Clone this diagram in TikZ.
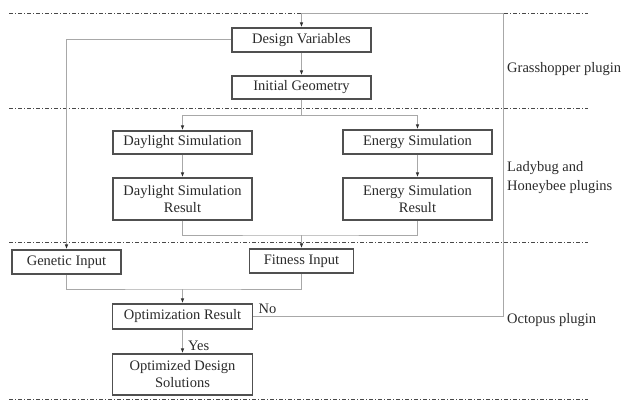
\documentclass[tikz,border=0pt]{standalone}
\usepackage{fontspec}
\setmainfont{Liberation Serif}
\usetikzlibrary{arrows.meta}
\definecolor{txtc}{HTML}{2A2A2A}
\definecolor{boxc}{HTML}{505050}
\definecolor{linec}{HTML}{A8A8A8}
\definecolor{sepc}{HTML}{484848}
\definecolor{arrc}{HTML}{303030}
\begin{document}
\begin{tikzpicture}[x=1pt,y=-1pt,
  box/.style={draw=boxc, line width=1.3pt, fill=white, inner sep=0pt, align=center,
    font=\fontsize{14.5}{17}\selectfont, text=txtc},
  conn/.style={draw=linec, line width=1pt},
  arr/.style={conn, -{Latex[length=5pt,width=3.6pt,color=arrc]}},
  sep/.style={draw=sepc, line width=1pt, dash pattern=on 4pt off 2pt on 1pt off 2pt},
  lab/.style={font=\fontsize{14.5}{19}\selectfont, text=txtc, inner sep=0pt}]
\useasboundingbox (0,0) rectangle (626,401);
% separators
\coordinate (sa1) at (9,13.5);   \coordinate (sa2) at (588,13.5);
\coordinate (sb1) at (9,109);    \coordinate (sb2) at (588,109);
\coordinate (sc1) at (9,242);    \coordinate (sc2) at (588,242);
\coordinate (sd1) at (9,399);    \coordinate (sd2) at (588,399);
\draw[sep] (sa1) -- (sa2);
\draw[sep] (sb1) -- (sb2);
\draw[sep] (sc1) -- (sc2);
\draw[sep] (sd1) -- (sd2);
% boxes
\node[box, minimum width=139pt, minimum height=24pt] (dv) at (301.5,40) {Design Variables};
\node[box, minimum width=139pt, minimum height=23pt] (ig) at (301.5,87.5) {Initial Geometry};
\node[box, minimum width=139pt, minimum height=23pt] (ds) at (182.5,142.5) {Daylight Simulation};
\node[box, minimum width=149pt, minimum height=24pt] (es) at (417.5,142) {Energy Simulation};
\node[box, minimum width=139pt, minimum height=42pt] (dsr) at (182.5,199) {Daylight Simulation\\Result};
\node[box, minimum width=149pt, minimum height=42pt] (esr) at (417.5,199) {Energy Simulation\\Result};
\node[box, minimum width=109pt, minimum height=24pt] (gi) at (66.5,262) {Genetic Input};
\node[box, minimum width=104pt, minimum height=24pt] (fi) at (301.5,261) {Fitness Input};
\node[box, minimum width=140pt, minimum height=25pt] (or) at (182.5,316.5) {Optimization Result};
\node[box, minimum width=140pt, minimum height=41pt] (ods) at (182.5,374.5) {Optimized Design\\Solutions};
% connectors
\draw[arr] (dv.south) -- (ig.north);
\coordinate (j1) at (301.5,116);
\draw[conn] (ig.south) -- (j1);
\draw[arr] (j1) -| (ds.north);
\draw[arr] (j1) -| (es.north);
\draw[arr] (ds.south) -- (dsr.north);
\draw[arr] (es.south) -- (esr.north);
\coordinate (j2) at (301.5,235);
\draw[conn] (dsr.south) |- (j2) -| (esr.south);
\draw[arr] (j2) -- (fi.north);
\draw[arr] (dv.west) -| (gi.north);
\coordinate (j3) at (182.5,289);
\draw[conn] (gi.south) |- (j3) -| (fi.south);
\draw[arr] (j3) -- (or.north);
\draw[arr] (or.south) -- (ods.north);
\coordinate (c1) at (503,316.5);
\coordinate (c2) at (503,14);
\draw[arr] (or.east) -- (c1) -- (c2) -- (c2 -| dv.north) -- (dv.north);
% labels
\node[lab] (no) at (267.5,309) {No};
\node[lab, anchor=west] (yes) at (188,346) {Yes};
\node[lab, anchor=west] (gh) at (507,69) {Grasshopper plugin};
\node[lab, anchor=west, align=left] (lb) at (507,177.5) {Ladybug and\\Honeybee plugins};
\node[lab, anchor=west] (oc) at (507,320) {Octopus plugin};
\end{tikzpicture}
\end{document}
